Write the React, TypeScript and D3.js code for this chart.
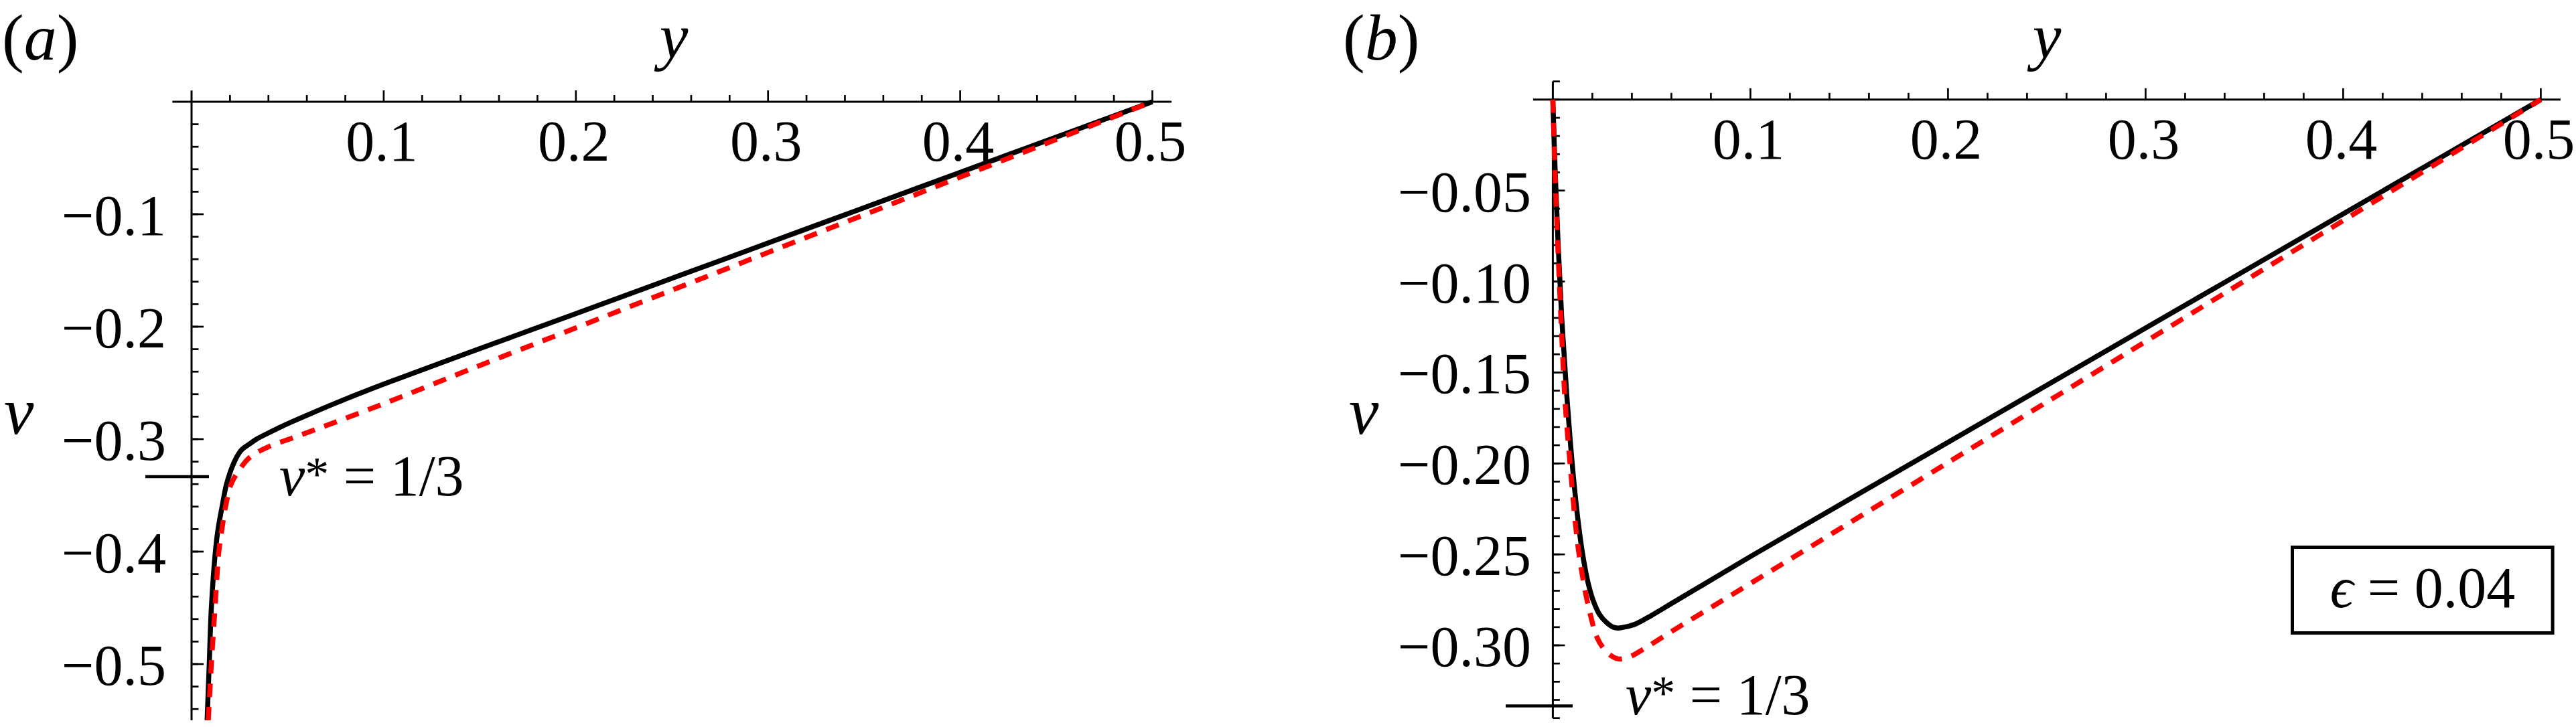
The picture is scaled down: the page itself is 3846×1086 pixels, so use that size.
import * as d3 from "d3";

const FONT = "'Liberation Serif', 'Times New Roman', Times, serif";

// ---- panel (a) data (y, v) ----
const aBlackY = [0.0081, 0.0092, 0.0103, 0.0124, 0.0138, 0.0159, 0.0182, 0.0223, 0.0258, 0.03, 0.0338, 0.04, 0.0478, 0.057, 0.07, 0.085, 0.1, 0.15, 0.2, 0.25, 0.3, 0.35, 0.4, 0.45, 0.5];
const aBlackV = [-0.55, -0.5, -0.45, -0.4, -0.38, -0.36, -0.34, -0.32, -0.31, -0.3045, -0.3, -0.2945, -0.288, -0.281, -0.2715, -0.261, -0.251, -0.2195, -0.1884, -0.157, -0.1256, -0.0942, -0.0628, -0.0314, 0];
const aRedY = [0.0087, 0.0103, 0.0122, 0.0142, 0.0158, 0.0177, 0.0206, 0.0246, 0.0304, 0.0397, 0.0525, 0.07, 0.1, 0.15, 0.2, 0.25, 0.3, 0.35, 0.4, 0.45, 0.5];
const aRedV = [-0.55, -0.5, -0.45, -0.4, -0.38, -0.36, -0.34, -0.328, -0.316, -0.307, -0.299, -0.288, -0.2685, -0.2345, -0.201, -0.1675, -0.134, -0.1005, -0.067, -0.0335, 0];

// ---- panel (b) data, eps = 0.04 ----
const bBlackY = [0, 0.0012, 0.0027, 0.0045, 0.0069, 0.0098, 0.0126, 0.0151, 0.0177, 0.0203, 0.0236, 0.0272, 0.0305, 0.033, 0.037, 0.042, 0.05, 0.0616, 0.1, 0.2, 0.3, 0.4, 0.5];
const bBlackV = [0, -0.04, -0.08, -0.12, -0.16, -0.2, -0.23, -0.25, -0.265, -0.275, -0.283, -0.2875, -0.29, -0.2905, -0.2898, -0.2882, -0.2835, -0.276, -0.2512, -0.1884, -0.1256, -0.0628, 0];
const bRedY = [0, 0.0011, 0.0025, 0.0041, 0.0062, 0.0087, 0.0121, 0.0147, 0.0183, 0.0223, 0.0256, 0.0292, 0.0333, 0.039, 0.0457, 0.0593, 0.1, 0.2, 0.3, 0.4, 0.5];
const bRedV = [0, -0.04, -0.08, -0.12, -0.166, -0.2, -0.24, -0.26, -0.28, -0.2955, -0.3016, -0.3055, -0.3075, -0.3062, -0.3022, -0.2929, -0.266, -0.1995, -0.133, -0.0665, 0];

// ---- ticks ----
const xMajor = [0.1, 0.2, 0.3, 0.4, 0.5];
const xMajorLabels = ["0.1", "0.2", "0.3", "0.4", "0.5"];
const aYMajor = [-0.1, -0.2, -0.3, -0.4, -0.5];
const aYLabels = ["\u22120.1", "\u22120.2", "\u22120.3", "\u22120.4", "\u22120.5"];
const bYMajor = [-0.05, -0.1, -0.15, -0.2, -0.25, -0.3];
const bYLabels = ["\u22120.05", "\u22120.10", "\u22120.15", "\u22120.20", "\u22120.25", "\u22120.30"];

const vStar = -1 / 3;

const zip = (a: number[], b: number[]) => a.map((d, i) => [d, b[i]] as [number, number]);

type PanelProps = {
  id: string;
  letter: string;
  x: d3.ScaleLinear<number, number>;
  y: d3.ScaleLinear<number, number>;
  yMin: number;
  xMinor: number[];
  yMinor: number[];
  yMajor: number[];
  yLabels: string[];
  yLabelRight: number;
  black: [number, number][];
  red: [number, number][];
  letterX: number;
  titleX: number;
  vX: number;
  starLine: [number, number];
  starText: [number, number];
};

function Panel(p: PanelProps) {
  const { x, y } = p;
  const x0 = x(0);
  const y0 = y(0);
  const line = d3
    .line<[number, number]>()
    .x((d) => x(d[0]))
    .y((d) => y(d[1]))
    .curve(d3.curveCatmullRom.alpha(0.5));

  return (
    <g>
      <defs>
        <clipPath id={`clip-${p.id}`}>
          <rect x={x(-0.01)} y={y(0.01)} width={x(0.51) - x(-0.01)} height={y(p.yMin) - y(0.01)} />
        </clipPath>
      </defs>

      {/* axes */}
      <line x1={x(-0.01)} x2={x(0.51)} y1={y0} y2={y0} stroke="#000" strokeWidth={3} />
      <line x1={x0} x2={x0} y1={y(0.01)} y2={y(p.yMin)} stroke="#000" strokeWidth={3} />
      {p.xMinor.map((t) => (
        <line key={`xm${t}`} x1={x(t)} x2={x(t)} y1={y0} y2={y0 - 10} stroke="#000" strokeWidth={2.7} />
      ))}
      {xMajor.map((t) => (
        <line key={`xM${t}`} x1={x(t)} x2={x(t)} y1={y0} y2={y0 - 17} stroke="#000" strokeWidth={2.7} />
      ))}
      {p.yMinor.map((t) => (
        <line key={`ym${t}`} x1={x0} x2={x0 + 10.5} y1={y(t)} y2={y(t)} stroke="#000" strokeWidth={2.7} />
      ))}
      {p.yMajor.map((t) => (
        <line key={`yM${t}`} x1={x0} x2={x0 + 18} y1={y(t)} y2={y(t)} stroke="#000" strokeWidth={2.7} />
      ))}

      {/* tick labels */}
      <g fontFamily={FONT} fontSize={86}>
        {xMajor.map((t, i) => (
          <text key={`xl${t}`} x={x(t) - 3} y={y0 + 88} textAnchor="middle">
            {xMajorLabels[i]}
          </text>
        ))}
        {p.yMajor.map((t, i) => (
          <text key={`yl${t}`} x={p.yLabelRight} y={y(t) + 31} textAnchor="end">
            {p.yLabels[i]}
          </text>
        ))}
      </g>

      {/* v* marker */}
      <line x1={p.starLine[0]} x2={p.starLine[1]} y1={y(vStar)} y2={y(vStar)} stroke="#000" strokeWidth={4.5} />
      <text x={p.starText[0]} y={p.starText[1]} fontFamily={FONT} fontSize={86}>
        <tspan fontStyle="italic">v</tspan>
        <tspan fontSize={72} dy={-8}>*</tspan>
        <tspan dy={8}>{" = 1/3"}</tspan>
      </text>

      {/* curves */}
      <g clipPath={`url(#clip-${p.id})`} fill="none">
        <path d={line(p.black) ?? ""} stroke="#000" strokeWidth={7.5} />
        <path d={line(p.red) ?? ""} stroke="#ff0000" strokeWidth={7.5} strokeDasharray="20,15" />
      </g>

      {/* labels */}
      <text x={p.letterX} y={89} fontFamily={FONT} fontSize={98}>
        (<tspan fontStyle="italic">{p.letter}</tspan>)
      </text>
      <text x={p.titleX} y={87} fontFamily={FONT} fontSize={96} fontStyle="italic" textAnchor="middle">
        y
      </text>
      <text x={p.vX} y={648} fontFamily={FONT} fontSize={100} fontStyle="italic">
        v
      </text>
    </g>
  );
}

export default function App() {
  const xA = d3.scaleLinear().domain([0, 0.5]).range([286, 1720.5]);
  const yA = d3.scaleLinear().domain([0, -0.5]).range([152, 992]);
  const xB = d3.scaleLinear().domain([0, 0.5]).range([2318.4, 3793.4]);
  const yB = d3.scaleLinear().domain([0, -0.3]).range([148.8, 964]);

  const xMinor = d3.range(0, 26).map((i) => +(i * 0.02).toFixed(2)).filter((t) => !xMajor.includes(t) && t > 0);
  const aYMinor = d3.range(1, 28).map((i) => +(-i * 0.02).toFixed(2));
  const bYMinor = d3.range(-1, 35).map((i) => +(-i * 0.01).toFixed(2));

  return (
    <svg
      width={3846}
      height={1086}
      viewBox="0 0 3846 1086"
      style={{ position: "absolute", left: 0, top: 0, background: "#fff" }}
    >
      <rect width={3846} height={1086} fill="#fff" />
      <Panel
        id="a"
        letter="a"
        x={xA}
        y={yA}
        yMin={-0.55}
        xMinor={xMinor}
        yMinor={aYMinor}
        yMajor={aYMajor}
        yLabels={aYLabels}
        yLabelRight={248}
        black={zip(aBlackY, aBlackV)}
        red={zip(aRedY, aRedV)}
        letterX={3}
        titleX={1006}
        vX={6}
        starLine={[217, 312]}
        starText={[417, 740]}
      />
      <Panel
        id="b"
        letter="b"
        x={xB}
        y={yB}
        yMin={-0.34}
        xMinor={xMinor}
        yMinor={bYMinor}
        yMajor={bYMajor}
        yLabels={bYLabels}
        yLabelRight={2286}
        black={zip(bBlackY, bBlackV)}
        red={zip(bRedY, bRedV)}
        letterX={2005}
        titleX={3056}
        vX={2014}
        starLine={[2248, 2348]}
        starText={[2427, 1067]}
      />
      <rect x={3422.5} y={817.5} width={388.6} height={128} fill="#fff" stroke="#000" strokeWidth={5} />
      <text x={3617} y={907} fontFamily={FONT} fontSize={86} textAnchor="middle">
        <tspan fontStyle="italic">{"\u03f5"}</tspan>
        {" = 0.04"}
      </text>
    </svg>
  );
}
